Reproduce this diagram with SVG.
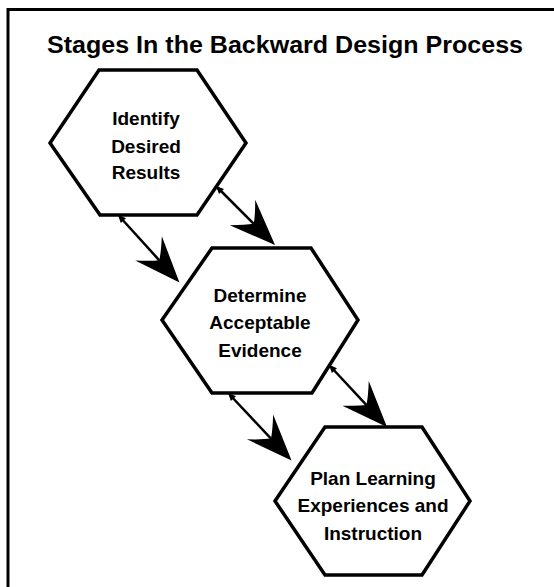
<svg xmlns="http://www.w3.org/2000/svg" width="554" height="587" viewBox="0 0 554 587">
  <style>
    .frame { fill: none; stroke: #000; stroke-width: 3; }
    .hex { fill: #fff; stroke: #000; stroke-width: 3.5; stroke-linejoin: miter; }
    .lbl { font-family: "Liberation Sans", Arial, sans-serif; font-weight: bold; font-size: 19px; fill: #000; text-anchor: middle; }
    .title { font-family: "Liberation Sans", Arial, sans-serif; font-weight: bold; font-size: 23px; fill: #000; }
    .conn { fill: none; stroke: #000; stroke-width: 2.5; marker-end: url(#head); marker-start: url(#tail); }
  </style>
  <defs>
    <marker id="head" markerUnits="userSpaceOnUse" viewBox="-20 -22 54 44" markerWidth="54" markerHeight="44" refX="0" refY="0" orient="auto">
      <path d="M30,0 L-16,-18 Q-5,-7 0,0 Q-5,7 -16,18 Z" fill="#000"/>
    </marker>
    <marker id="tail" markerUnits="userSpaceOnUse" viewBox="-10 -8 20 16" markerWidth="20" markerHeight="16" refX="0" refY="0" orient="auto-start-reverse">
      <path d="M3,0 L-5,-3.5 L-5,3.5 Z" fill="#000"/>
    </marker>
  </defs>
  <rect width="554" height="587" fill="#fff"/>
  <path class="frame" d="M8,587 L8,9.5 L554,9.5"/>
  <text class="title" x="47" y="53" textLength="476" lengthAdjust="spacingAndGlyphs">Stages In the Backward Design Process</text>

  <g id="node-identify">
    <polygon class="hex" points="99,70 197,70 246,143 197,215 100,215 50,143"/>
    <text class="lbl" x="146" y="125">Identify</text>
    <text class="lbl" x="146" y="153">Desired</text>
    <text class="lbl" x="146" y="179">Results</text>
  </g>

  <g id="node-determine">
    <polygon class="hex" points="212,248 311,248 358,320 312,393 212,393 162,320"/>
    <text class="lbl" x="260" y="302">Determine</text>
    <text class="lbl" x="260" y="329">Acceptable</text>
    <text class="lbl" x="260" y="357">Evidence</text>
  </g>

  <g id="node-plan">
    <polygon class="hex" points="325,427 422,427 470,501 422,575 325,575 275,501"/>
    <text class="lbl" x="373" y="485">Plan Learning</text>
    <text class="lbl" x="373" y="512">Experiences and</text>
    <text class="lbl" x="373" y="540">Instruction</text>
  </g>

  <g id="connectors">
    <line class="conn" x1="218" y1="188" x2="253.8" y2="223.8"/>
    <line class="conn" x1="120" y1="217" x2="159.3" y2="260.3"/>
    <line class="conn" x1="331" y1="367" x2="366.5" y2="405.1"/>
    <line class="conn" x1="230" y1="395" x2="271" y2="438.6"/>
  </g>
</svg>
